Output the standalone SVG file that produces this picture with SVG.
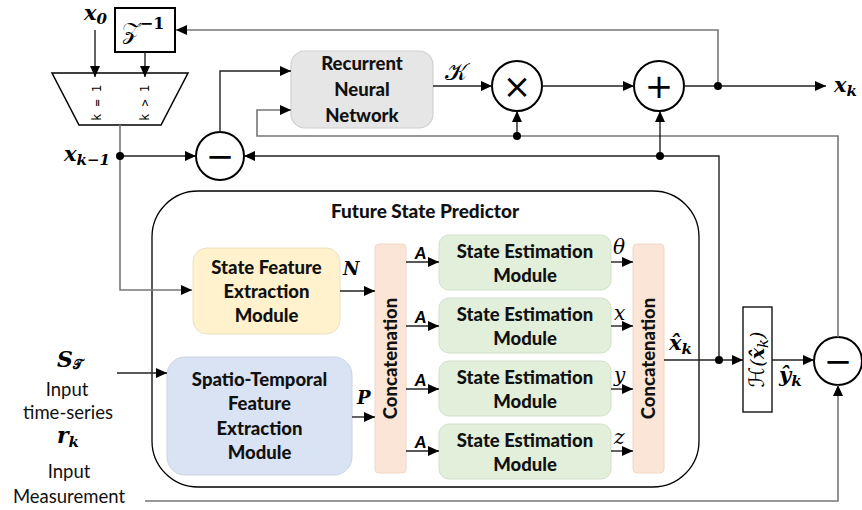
<svg xmlns="http://www.w3.org/2000/svg" width="862" height="510" viewBox="0 0 862 510">
<defs>
<marker id="arr" markerUnits="userSpaceOnUse" markerWidth="11" markerHeight="10" refX="11" refY="5" orient="auto"><path d="M0,0 L11,5 L0,10 z" fill="#000"/></marker>
<style>
.ln{fill:none;stroke:#222;stroke-width:1.4}
.gl{fill:none;stroke:#777;stroke-width:1.6}
.dot{fill:#000}
.op{fill:#fff;stroke:#000;stroke-width:2}
.bx{font-family:Lato,"Open Sans","Liberation Sans",sans-serif;font-weight:900;font-size:18.5px;fill:#111;text-anchor:middle}
.rg{font-family:Lato,"Open Sans","Liberation Sans",sans-serif;font-size:18.5px;fill:#111;text-anchor:middle}
.m{font-family:"DejaVu Serif","Liberation Serif",serif;font-style:italic;font-weight:bold;font-size:21px;fill:#000}
.mi{font-family:"DejaVu Serif","Liberation Serif",serif;font-style:italic;font-size:20px;fill:#000}
.sc{font-family:"DejaVu Serif","DejaVu Sans",serif;font-style:normal;fill:#000}
.sub{font-size:15px}
.sym{font-family:"DejaVu Sans",sans-serif;font-size:34px;fill:#000;text-anchor:middle}
</style>
</defs>
<g id="future-state-predictor">
<rect x="152" y="191" width="547" height="296" rx="46" ry="46" fill="#fff" stroke="#000" stroke-width="1.3"/>
<text class="bx" x="425" y="218" style="font-size:19px">Future State Predictor</text>
</g>
<g id="z-inv">
<rect x="115" y="8" width="60" height="44" fill="#fff" stroke="#000" stroke-width="2"/>
<text class="sc" x="143" y="39" text-anchor="middle" style="font-size:24px">𝒵<tspan dy="-10" style="font-size:16px;font-weight:bold">−1</tspan></text>
</g>
<g id="mux">
<polygon points="52,73 188,73 161,125 79,125" fill="#fff" stroke="#000" stroke-width="1.5"/>
<text x="101" y="103" transform="rotate(-90 101 103)" text-anchor="middle" font-family="DejaVu Sans Mono,monospace" font-size="12">k = 1</text>
<text x="149" y="103" transform="rotate(-90 149 103)" text-anchor="middle" font-family="DejaVu Sans Mono,monospace" font-size="12">k &gt; 1</text>
</g>
<g id="rnn">
<rect x="291" y="51" width="142" height="77" rx="14" fill="#e6e6e6" stroke="#d0d0d0" stroke-width="1.2"/>
<text class="bx" x="362" y="70">Recurrent</text>
<text class="bx" x="362" y="96">Neural</text>
<text class="bx" x="362" y="122">Network</text>
</g>
<g id="sub-left">
<circle class="op" cx="220" cy="156" r="24"/>
<text class="sym" x="220" y="168">−</text>
</g>
<g id="mul">
<circle class="op" cx="517" cy="86" r="25"/>
<text class="sym" x="517" y="98">×</text>
</g>
<g id="add">
<circle class="op" cx="659" cy="86" r="25"/>
<text class="sym" x="659" y="98">+</text>
</g>
<g id="sub-right">
<circle class="op" cx="838" cy="361" r="24"/>
<text class="sym" x="838" y="373">−</text>
</g>
<g id="sfem">
<rect x="193" y="248" width="147" height="86" rx="14" fill="#fff2cc" stroke="#ece0c0" stroke-width="1"/>
<text class="bx" x="266.5" y="274">State Feature</text>
<text class="bx" x="266.5" y="298">Extraction</text>
<text class="bx" x="266.5" y="322">Module</text>
</g>
<g id="stfem">
<rect x="167" y="357" width="185" height="118" rx="18" fill="#dae3f3" stroke="#cad3e3" stroke-width="1"/>
<text class="bx" x="259.5" y="386">Spatio-Temporal</text>
<text class="bx" x="259.5" y="410">Feature</text>
<text class="bx" x="259.5" y="435">Extraction</text>
<text class="bx" x="259.5" y="459">Module</text>
</g>
<g id="concat-left">
<rect x="375" y="244" width="31" height="229" rx="4" fill="#fbe5d6" stroke="#eed8c9" stroke-width="1"/>
<text class="bx" x="390.5" y="358.5" transform="rotate(-90 390.5 358.5)" dy="6.5">Concatenation</text>
</g>
<g id="concat-right">
<rect x="633" y="244" width="31" height="229" rx="4" fill="#fbe5d6" stroke="#eed8c9" stroke-width="1"/>
<text class="bx" x="648.5" y="358.5" transform="rotate(-90 648.5 358.5)" dy="6.5">Concatenation</text>
</g>
<g id="sem1">
<rect x="439" y="235" width="172" height="55" rx="10" fill="#e2efda" stroke="#d2dfca" stroke-width="1"/>
<text class="bx" x="525" y="258">State Estimation</text>
<text class="bx" x="525" y="282">Module</text>
</g>
<g id="sem2">
<rect x="439" y="298" width="172" height="55" rx="10" fill="#e2efda" stroke="#d2dfca" stroke-width="1"/>
<text class="bx" x="525" y="321">State Estimation</text>
<text class="bx" x="525" y="345">Module</text>
</g>
<g id="sem3">
<rect x="439" y="361" width="172" height="55" rx="10" fill="#e2efda" stroke="#d2dfca" stroke-width="1"/>
<text class="bx" x="525" y="384">State Estimation</text>
<text class="bx" x="525" y="408">Module</text>
</g>
<g id="sem4">
<rect x="439" y="424" width="172" height="55" rx="10" fill="#e2efda" stroke="#d2dfca" stroke-width="1"/>
<text class="bx" x="525" y="447">State Estimation</text>
<text class="bx" x="525" y="471">Module</text>
</g>
<g id="h-box">
<rect x="743" y="307" width="29" height="105" fill="#fff" stroke="#000" stroke-width="1.3"/>
<text class="mi" x="757.5" y="359.5" transform="rotate(-90 757.5 359.5)" dy="6" text-anchor="middle" style="font-size:19px"><tspan class="sc" style="font-size:21px">ℋ</tspan>(<tspan font-weight="bold">x̂</tspan><tspan dy="4" class="sub">k</tspan><tspan dy="-4">)</tspan></text>
</g>
<g id="connectors">
<path class="ln" d="M95,30 V77" marker-end="url(#arr)"/>
<path class="ln" d="M145,52 V77" marker-end="url(#arr)"/>
<path class="gl" d="M120,125 V290 H192" marker-end="url(#arr)"/>
<path class="ln" d="M120,156 H196" marker-end="url(#arr)"/>
<path class="ln" d="M220,132 V71 H291" marker-end="url(#arr)"/>
<path class="gl" d="M838,337 V136 H257 V110 H291" marker-end="url(#arr)"/>
<path class="ln" d="M517,136 V111" marker-end="url(#arr)"/>
<path class="ln" d="M433,86 H492" marker-end="url(#arr)"/>
<path class="ln" d="M542,86 H634" marker-end="url(#arr)"/>
<path class="ln" d="M684,86 H826" marker-end="url(#arr)"/>
<path class="gl" d="M718,86 V30 H176" marker-end="url(#arr)"/>
<path class="ln" d="M664,360 H743" marker-end="url(#arr)"/>
<path class="ln" d="M719,360 V156 H244" marker-end="url(#arr)"/>
<path class="ln" d="M660,156 V111" marker-end="url(#arr)"/>
<path class="ln" d="M772,360 H814" marker-end="url(#arr)"/>
<path class="gl" d="M145,501 H838 V385" marker-end="url(#arr)"/>
<path class="ln" d="M117,373 H167" marker-end="url(#arr)"/>
<path class="ln" d="M340,291 H375" marker-end="url(#arr)"/>
<path class="ln" d="M352,417 H375" marker-end="url(#arr)"/>
<path class="ln" d="M406,262 H439" marker-end="url(#arr)"/>
<path class="ln" d="M406,326 H439" marker-end="url(#arr)"/>
<path class="ln" d="M406,389 H439" marker-end="url(#arr)"/>
<path class="ln" d="M406,451 H439" marker-end="url(#arr)"/>
<path class="ln" d="M611,262 H633" marker-end="url(#arr)"/>
<path class="ln" d="M611,326 H633" marker-end="url(#arr)"/>
<path class="ln" d="M611,389 H633" marker-end="url(#arr)"/>
<path class="ln" d="M611,451 H633" marker-end="url(#arr)"/>
<circle class="dot" cx="120" cy="156" r="4"/>
<circle class="dot" cx="517" cy="136" r="4"/>
<circle class="dot" cx="718" cy="86" r="4"/>
<circle class="dot" cx="660" cy="156" r="4"/>
<circle class="dot" cx="719" cy="360" r="4"/>
</g>
<g id="labels">
<text class="m" x="84" y="20">x<tspan dy="4" class="sub">0</tspan></text>
<text class="m" x="64" y="161">x<tspan dy="4" class="sub">k−1</tspan></text>
<text class="m" x="834" y="92">x<tspan dy="4" class="sub">k</tspan></text>
<text class="sc" x="445" y="80" style="font-size:24px">𝒦</text>
<text class="m" x="343" y="275" style="font-size:18px">N</text>
<text class="m" x="357" y="404" style="font-size:18px">P</text>
<text class="m" x="415" y="259" style="font-size:17px;font-family:Lato,sans-serif;font-weight:900">A</text>
<text class="m" x="415" y="323" style="font-size:17px;font-family:Lato,sans-serif;font-weight:900">A</text>
<text class="m" x="415" y="386" style="font-size:17px;font-family:Lato,sans-serif;font-weight:900">A</text>
<text class="m" x="415" y="448" style="font-size:17px;font-family:Lato,sans-serif;font-weight:900">A</text>
<text class="mi" x="613" y="254">θ</text>
<text class="mi" x="614" y="320">x</text>
<text class="mi" x="614" y="382">y</text>
<text class="mi" x="614" y="444">z</text>
<text class="m" x="669" y="350">x̂<tspan dy="4" class="sub">k</tspan></text>
<text class="m" x="779" y="382">ŷ<tspan dy="4" class="sub">k</tspan></text>
<text class="m" x="70" y="367" text-anchor="middle" style="font-size:22px">S<tspan dy="2" class="sub sc" style="font-size:13px">𝒯</tspan></text>
<text class="rg" x="67" y="396">Input</text>
<text class="rg" x="68" y="419">time-series</text>
<text class="m" x="68" y="443" text-anchor="middle" style="font-size:22px">r<tspan dy="4" class="sub">k</tspan></text>
<text class="rg" x="69" y="478">Input</text>
<text class="rg" x="69" y="503">Measurement</text>
</g>
</svg>
